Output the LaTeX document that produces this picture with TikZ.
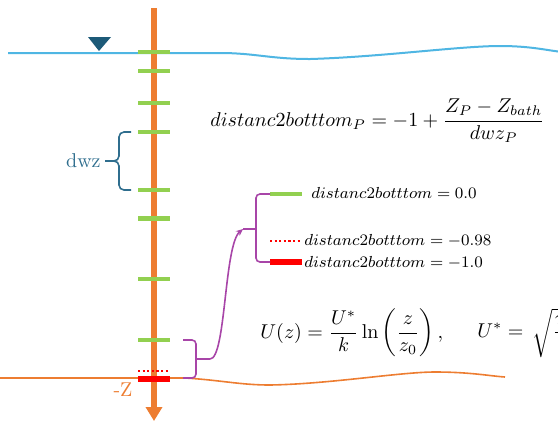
\documentclass[tikz,border=0pt]{standalone}
\usetikzlibrary{arrows.meta}
\definecolor{axisorange}{HTML}{ED7D31}
\definecolor{tickgreen}{HTML}{92D050}
\definecolor{waterblue}{HTML}{4FB6E3}
\definecolor{tridark}{HTML}{1D5A78}
\definecolor{dwzblue}{HTML}{2F6E8E}
\definecolor{braceviolet}{HTML}{A845A8}
\definecolor{redline}{HTML}{FF0000}
\tikzset{
  axisline/.style={line width=2.6pt, axisorange, -{Triangle[length=7pt,width=8pt]}},
  tickline/.style={line width=2.3pt, tickgreen},
  waterline/.style={line width=1pt, waterblue},
  bedline/.style={line width=0.8pt, axisorange},
  redsolid/.style={line width=2.6pt, redline},
  reddots/.style={line width=1.4pt, redline, dash pattern=on 1.1pt off 1.2pt},
  dwzbrace/.style={line width=0.8pt, dwzblue, rounded corners=2.5pt},
  vbrace/.style={line width=0.8pt, braceviolet, rounded corners=2pt},
  vconn/.style={line width=0.8pt, braceviolet, -{Stealth[length=3.5pt,width=3pt]}},
  eqfont/.style={font=\fontsize{9.6}{11}\selectfont, inner sep=0pt},
  eqfontb/.style={font=\fontsize{10.2}{12}\selectfont, inner sep=0pt},
  legfont/.style={font=\fontsize{7.8}{9}\selectfont, inner sep=0pt, anchor=west},
}
\begin{document}
\begin{tikzpicture}[x=0.5pt,y=-0.5pt]
\useasboundingbox (0,0) rectangle (558,420);
\clip (0,0) rectangle (558,420);

% water surface
\draw[waterline] (8,53) -- (220,53) .. controls (255,53) and (270,59) .. (310,59)
  .. controls (380,57) and (460,46) .. (500,46) .. controls (530,46) and (545,50) .. (562,52);
% bed
\draw[bedline] (0,378) -- (185,378) .. controls (220,380) and (240,385) .. (270,385)
  .. controls (330,384) and (400,372) .. (435,372) .. controls (470,372) and (490,376) .. (505,377);

% water level symbol
\fill[tridark] (88,37) -- (111,37) -- (99,51) -- cycle;

% vertical axis
\coordinate (axtop) at (154,8);
\coordinate (axbot) at (154,421);
\draw[axisline] (axtop) -- (axbot);

% ticks
\foreach \i/\y in {1/52,2/71,3/103,4/132,5/190,6/218.5,7/279,8/340}{
  \coordinate (t\i) at (154,\y);
  \draw[tickline] ([xshift=-8pt]t\i) -- ([xshift=8pt]t\i);
}
\coordinate (rd) at (154,371);
\coordinate (rs) at (154,379);
\draw[reddots] ([xshift=-8pt]rd) -- ([xshift=8pt]rd);
\draw[redsolid] ([xshift=-8pt]rs) -- ([xshift=8pt]rs);

% dwz brace
\coordinate (dwzA) at (131,132);
\coordinate (dwzB) at (131,190);
\coordinate (dwzTip) at (105,161);
\draw[dwzbrace] (dwzA) -- (119,132) -- (119,161) -- (dwzTip);
\draw[dwzbrace] (dwzTip) -- (119,161) -- (119,190) -- (dwzB);
\node[anchor=east, inner sep=0pt, text=dwzblue, font=\fontsize{10}{12}\selectfont] (dwz) at (101,161) {dwz};
\node[anchor=north, inner sep=0pt, text=axisorange, font=\fontsize{10}{12}\selectfont] (mz) at (123,382) {-Z};

% lower violet brace
\coordinate (lbA) at (183,340);
\coordinate (lbB) at (183,378);
\coordinate (lbTip) at (210,359);
\draw[vbrace] (lbA) -- (196,340) -- (196,378) -- (lbB);
\draw[vbrace] (196,359) -- (lbTip);

% legend lines
\coordinate (g0) at (270,194);
\coordinate (r98) at (270,241);
\coordinate (r10) at (270,262);
\draw[tickline] (g0) -- ++(32,0);
\draw[reddots] (r98) -- ++(32,0);
\draw[redsolid] (r10) -- ++(32,0);

% upper violet brace
\coordinate (ubTip) at (243,229);
\draw[vbrace] (g0) -- (256,194) -- (256,262) -- (r10);
\draw[vbrace] (256,229) -- (ubTip);

% connector
\draw[vconn] (lbTip) .. controls (226,359) and (224,245) .. (ubTip);

% legend text
\node[legfont] (L0) at (311,193) {$distanc2botttom = 0.0$};
\node[legfont] (L98) at (304,241) {$distanc2botttom = -0.98$};
\node[legfont] (L10) at (304,263) {$distanc2botttom = -1.0$};

% formulas
\node[eqfont, anchor=west] (eq1) at (210,121)
  {$\displaystyle distanc2botttom_P = -1 + \frac{Z_P - Z_{bath}}{dwz_P}$};
\node[eqfontb, anchor=west] (eq2) at (260,333)
  {$\displaystyle U(z) = \frac{U^*}{k}\ln\left(\frac{z}{z_0}\right),$};
\node[eqfontb, anchor=west] (eq3) at (477,333)
  {$\displaystyle U^* = \,\sqrt{\frac{\tau_w}{\rho}}$};
\end{tikzpicture}
\end{document}
